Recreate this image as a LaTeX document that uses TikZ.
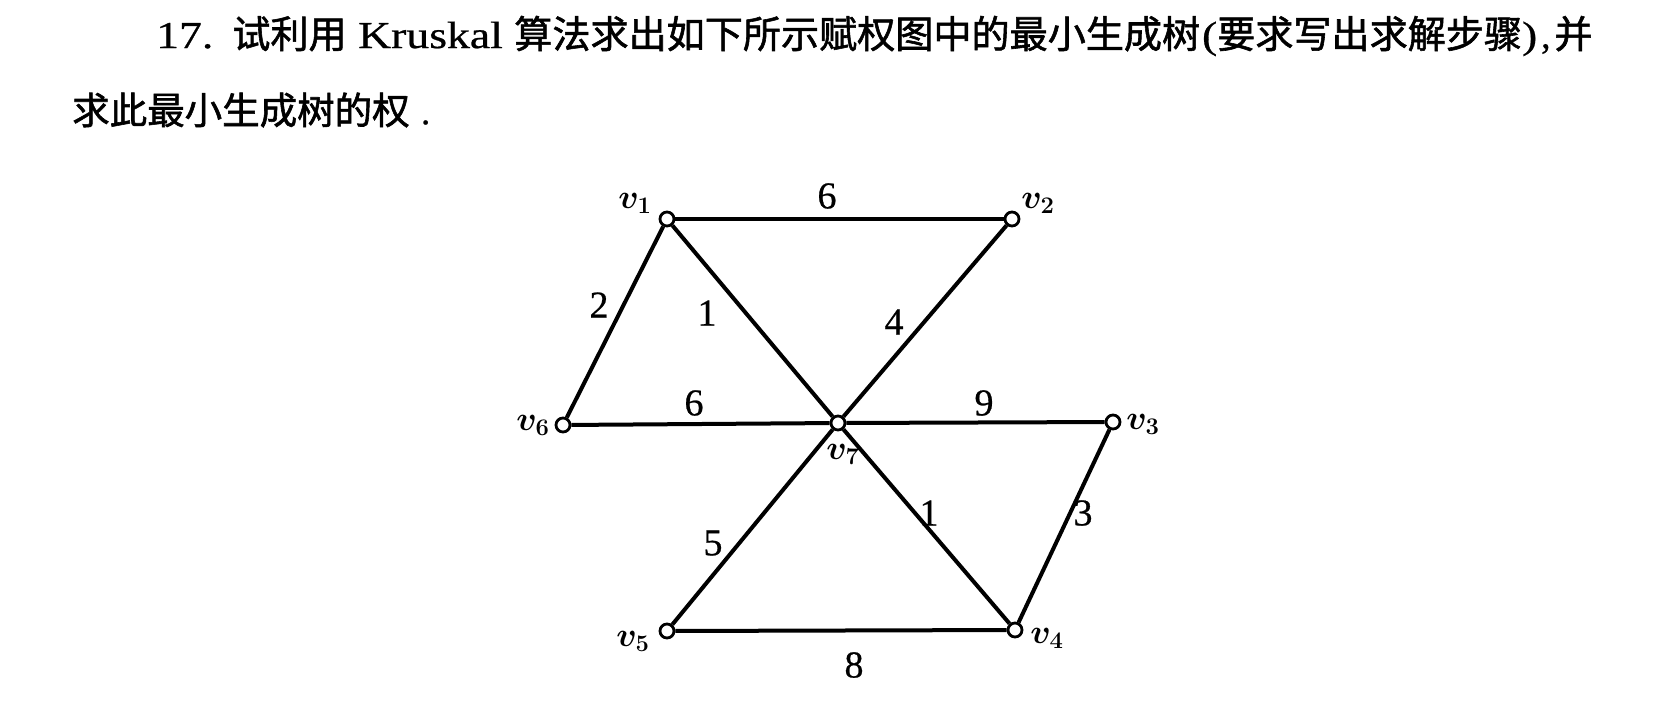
\RequirePackage{fix-cm}
\documentclass[tikz,border=0pt]{standalone}
\usepackage{fontspec}
\setmainfont{Liberation Serif}[FakeBold=0.6]
\newfontfamily\cjk{Noto Sans CJK SC}[FakeBold=1.5]
\newcommand{\wide}[1]{\scalebox{1.2}[1]{#1}}
\begin{document}
\begin{tikzpicture}[x=1pt,y=-1pt,
  vtx/.style={circle,draw,line width=2.8pt,inner sep=0pt,minimum size=14pt,fill=white},
  edge/.style={line width=4pt},
  wlab/.style={inner sep=0pt,font=\fontsize{38}{38}\selectfont},
  vlab/.style={inner sep=0pt,font=\fontsize{34}{34}\selectfont\boldmath},
  txt/.style={anchor=west,inner sep=0pt,font=\fontsize{37.5}{37.5}\selectfont}]
\useasboundingbox (0,0) rectangle (1661,702);
% text
\node[txt,font=\fontsize{38.1}{38.1}\selectfont] (line1) at (156,36) {\wide{17.}\hspace{0.5em}{\cjk 试利用}\hspace{0.3em}\wide{Kruskal}\hspace{0.3em}{\cjk 算法求出如下所示赋权图中的最小生成树}\hspace{0.05em}\wide{(}{\cjk 要求写出求解步骤}\wide{)}\hspace{0.1em},\hspace{0.1em}{\cjk 并}};
\node[txt] (line2) at (72,110) {{\cjk 求此最小生成树的权}\hspace{0.3em}.};
% vertices
\node[vtx] (v1) at (667,219) {};
\node[vtx] (v2) at (1012,219) {};
\node[vtx] (v6) at (563,425) {};
\node[vtx] (v7) at (838,423) {};
\node[vtx] (v3) at (1113,422) {};
\node[vtx] (v4) at (1015,630) {};
\node[vtx] (v5) at (667,631) {};
% vertex labels
\node[vlab] (l1) at (635,203) {$v_1$};
\node[vlab] (l2) at (1038,203) {$v_2$};
\node[vlab] (l6) at (533,425) {$v_6$};
\node[vlab] (l7) at (843,454) {$v_7$};
\node[vlab] (l3) at (1143,424) {$v_3$};
\node[vlab] (l4) at (1047,638) {$v_4$};
\node[vlab] (l5) at (633,641) {$v_5$};
% edges
\draw[edge] (v1) -- (v2);
\draw[edge] (v1) -- (v6);
\draw[edge] (v1) -- (v7);
\draw[edge] (v2) -- (v7);
\draw[edge] (v6) -- (v7);
\draw[edge] (v7) -- (v3);
\draw[edge] (v3) -- (v4);
\draw[edge] (v7) -- (v4);
\draw[edge] (v7) -- (v5);
\draw[edge] (v5) -- (v4);
% weights
\node[wlab] (w12) at (827,196) {6};
\node[wlab] (w16) at (599,305) {2};
\node[wlab] (w17) at (707,313) {1};
\node[wlab] (w27) at (894,322) {4};
\node[wlab] (w67) at (694,403) {6};
\node[wlab] (w73) at (984,403) {9};
\node[wlab] (w75) at (713,543) {5};
\node[wlab] (w74) at (929,513) {1};
\node[wlab] (w34) at (1083,513) {3};
\node[wlab] (w54) at (854,665) {8};
\end{tikzpicture}
\end{document}
